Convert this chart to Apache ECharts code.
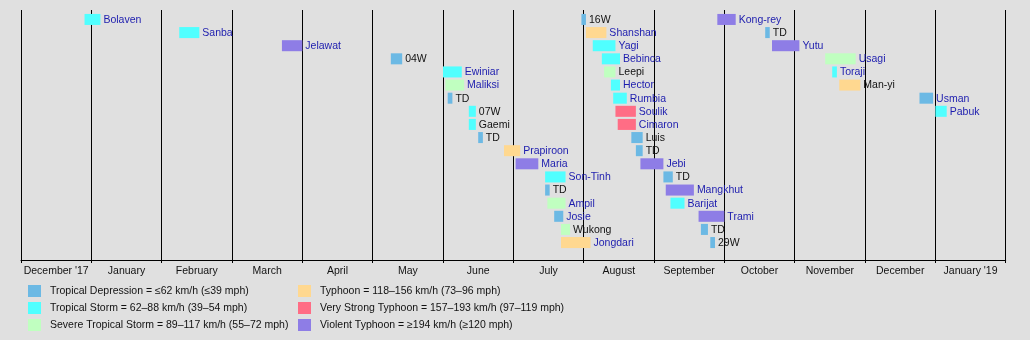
<!DOCTYPE html>
<html>
<head>
<meta charset="utf-8">
<script src="https://cdn.jsdelivr.net/npm/echarts@6/dist/echarts.min.js"></script>
<style>
html,body{margin:0;padding:0;background:#e0e0e0;}
#chart{width:1030px;height:340px;}
</style>
</head>
<body>
<div id="chart"></div>
<script>
// ---- Data ----
const monthLabels = ["December '17","January","February","March","April","May","June","July","August","September","October","November","December","January '19"];

const intensityNames = [
  "Tropical Depression = ≤62 km/h (≤39 mph)",
  "Tropical Storm = 62–88 km/h (39–54 mph)",
  "Severe Tropical Storm = 89–117 km/h (55–72 mph)",
  "Typhoon = 118–156 km/h (73–96 mph)",
  "Very Strong Typhoon = 157–193 km/h (97–119 mph)",
  "Violent Typhoon = ≥194 km/h (≥120 mph)"
];
const intensityColors = ["#6cb9e4","#50ffff","#c0ffc0","#ffd890","#ff6d85","#8e7de6"];

const stormNames = ["Bolaven","Sanba","Jelawat","04W","Ewiniar","Maliksi","TD","07W","Gaemi","TD","Prapiroon","Maria","Son-Tinh","TD","Ampil","Josie","Wukong","Jongdari","16W","Shanshan","Yagi","Bebinca","Leepi","Hector","Rumbia","Soulik","Cimaron","Luis","TD","Jebi","TD","Mangkhut","Barijat","Trami","TD","29W","Kong-rey","TD","Yutu","Usagi","Toraji","Man-yi","Usman","Pabuk"];
const stormStart = ["2017-12-29","2018-02-08","2018-03-23","2018-05-09","2018-06-01","2018-06-02","2018-06-03","2018-06-12","2018-06-12","2018-06-16","2018-06-27","2018-07-02","2018-07-15","2018-07-15","2018-07-16","2018-07-19","2018-07-22","2018-07-22","2018-07-31","2018-08-02","2018-08-05","2018-08-09","2018-08-10","2018-08-13","2018-08-14","2018-08-15","2018-08-16","2018-08-22","2018-08-24","2018-08-26","2018-09-05","2018-09-06","2018-09-08","2018-09-20","2018-09-21","2018-09-25","2018-09-28","2018-10-19","2018-10-22","2018-11-14","2018-11-17","2018-11-20","2018-12-25","2019-01-01"];
const stormEnd = ["2018-01-05","2018-02-16","2018-04-01","2018-05-14","2018-06-09","2018-06-10","2018-06-05","2018-06-15","2018-06-15","2018-06-18","2018-07-04","2018-07-12","2018-07-24","2018-07-17","2018-07-24","2018-07-23","2018-07-26","2018-08-04","2018-08-02","2018-08-11","2018-08-15","2018-08-17","2018-08-15","2018-08-17","2018-08-20","2018-08-24","2018-08-24","2018-08-27","2018-08-27","2018-09-05","2018-09-09","2018-09-18","2018-09-14","2018-10-01","2018-09-24","2018-09-27","2018-10-06","2018-10-21","2018-11-03","2018-11-27","2018-11-19","2018-11-29","2018-12-31","2019-01-06"];
const stormRow = [0,1,2,3,4,5,6,7,8,9,10,11,12,13,14,15,16,17,0,1,2,3,4,5,6,7,8,9,10,11,12,13,14,15,16,17,0,1,2,3,4,5,6,7];
const stormIntensity = [1,1,5,0,1,2,0,1,1,0,3,5,1,0,2,0,2,3,0,3,1,1,2,1,1,4,4,0,0,5,0,5,1,5,0,0,5,0,5,2,1,3,0,1];
const stormLinked = [1,1,1,0,1,1,0,0,0,0,1,1,1,0,1,1,0,1,0,1,1,1,0,1,1,1,1,0,0,1,0,1,1,1,0,0,1,0,1,1,1,0,1,1];

// ---- helpers ----
function toMonthPos(s){
  const [y,m,d] = s.split('-').map(Number);
  const dim = new Date(y, m, 0).getDate();
  return (y-2017)*12 + (m-1) - 11 + (d-1)/dim;
}
const FAMILY = '"Liberation Sans", Arial, sans-serif';
const FONT = '10.5px ' + FAMILY;

function renderItem(params, api){
  const idx = api.value(3);
  const s = api.coord([api.value(0), api.value(2)]);
  const e = api.coord([api.value(1), api.value(2)]);
  const h = api.size([0,1])[1]*0.84;
  return {type:'group', children:[
    {type:'rect', shape:{x:s[0], y:s[1]-h/2, width:e[0]-s[0], height:h}, style:{fill: api.visual('color')}},
    {type:'text', x:e[0]+3, y:s[1]+0.5, style:{text: stormNames[idx], fill: stormLinked[idx]? '#1c1cae' : '#111', font: FONT, verticalAlign:'middle', align:'left'}}
  ]};
}

const series = intensityNames.map((nm, k) => {
  const data = [];
  stormNames.forEach((n, i) => {
    if (stormIntensity[i] === k) data.push({name:n, value:[toMonthPos(stormStart[i]), toMonthPos(stormEnd[i]), stormRow[i], i]});
  });
  return {type:'custom', name:nm, renderItem, data, encode:{x:[0,1], y:2}, itemStyle:{color: intensityColors[k]}, clip:false};
});

const legendCommon = {orient:'vertical', top:285, padding:0, itemWidth:13, itemHeight:12, itemGap:5, icon:'rect', selectedMode:false,
  textStyle:{fontSize:10.5, color:'#111', fontFamily:FAMILY, padding:[0,0,0,4]}};

const chart = echarts.init(document.getElementById('chart'), null, {renderer:'canvas'});
chart.setOption({
  backgroundColor:'#e0e0e0',
  animation:false,
  color:intensityColors,
  grid:{left:21, right:24.3, top:10, bottom:80},
  xAxis:[
    {type:'value', min:0, max:14, interval:1,
     axisLine:{show:true, onZero:false, lineStyle:{color:'#000', width:1}},
     axisTick:{show:true, length:3, lineStyle:{color:'#000'}},
     axisLabel:{show:false},
     splitLine:{show:true, lineStyle:{color:'#000', width:1}}},
    {type:'category', data:monthLabels, boundaryGap:true, position:'bottom',
     axisLine:{show:false, onZero:false}, axisTick:{show:false}, splitLine:{show:false},
     axisLabel:{show:true, margin:6, color:'#111', fontSize:10.5, fontFamily:FAMILY, interval:0}}
  ],
  yAxis:{type:'value', inverse:true, min:-0.72, max:18.33, show:false, splitLine:{show:false}},
  legend:[
    Object.assign({data:intensityNames.slice(0,3), left:28}, legendCommon),
    Object.assign({data:intensityNames.slice(3,6), left:298}, legendCommon)
  ],
  series
});
</script>
</body>
</html>
